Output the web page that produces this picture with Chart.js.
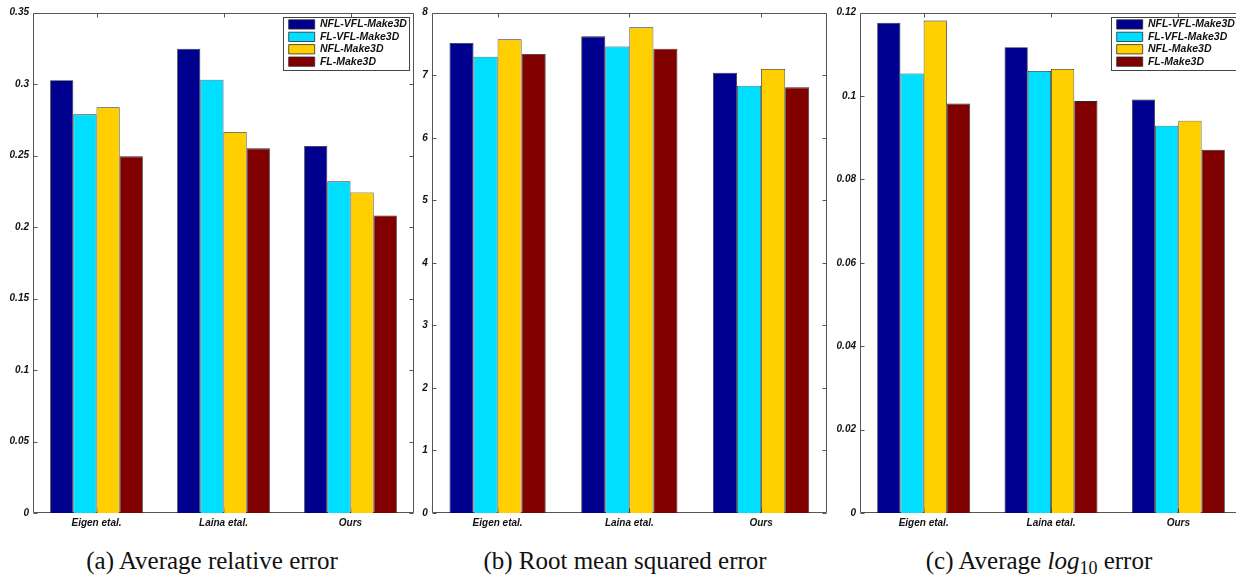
<!DOCTYPE html>
<html>
<head>
<meta charset="utf-8">
<script src="https://cdn.jsdelivr.net/npm/chart.js@4"></script>
<style>
html, body { margin:0; padding:0; background:#fff; width:1236px; height:577px; overflow:hidden; }
body { position:relative; }
.panel { position:absolute; top:0; height:538px; }
.cap { position:absolute; top:548px; font-family:"Liberation Serif", "Times New Roman", serif; font-size:25px; line-height:25px; white-space:nowrap; transform:translateX(-50%); color:#111; }
.cap sub { font-size:18px; vertical-align:-5px; line-height:0; }
</style>
</head>
<body>
<div class="panel" style="left:0px;width:416px"><canvas id="chartA"></canvas></div>
<div class="panel" style="left:404px;width:425px"><canvas id="chartB"></canvas></div>
<div class="panel" style="left:830px;width:414px"><canvas id="chartC"></canvas></div>
<div class="cap" style="left:212px">(a) Average relative error</div>
<div class="cap" style="left:625px">(b) Root mean squared error</div>
<div class="cap" style="left:1039px">(c) Average <i>log</i><sub>10</sub> error</div>
<script>
// ---- data ----
const categories = ['Eigen etal.', 'Laina etal.', 'Ours'];
const seriesNames = ['NFL-VFL-Make3D', 'FL-VFL-Make3D', 'NFL-Make3D', 'FL-Make3D'];
const seriesColors = ['#00008F', '#00DFFF', '#FFCF00', '#800000'];

// (a) Average relative error
const relNflVfl = [0.3027, 0.3248, 0.2567];
const relFlVfl  = [0.2789, 0.3031, 0.2320];
const relNfl    = [0.2838, 0.2665, 0.2243];
const relFl     = [0.2495, 0.2551, 0.2082];
const ticksA    = [0, 0.05, 0.1, 0.15, 0.2, 0.25, 0.3, 0.35];

// (b) Root mean squared error
const rmsNflVfl = [7.515, 7.622, 7.040];
const rmsFlVfl  = [7.296, 7.460, 6.832];
const rmsNfl    = [7.574, 7.766, 7.099];
const rmsFl     = [7.339, 7.424, 6.806];
const ticksB    = [0, 1, 2, 3, 4, 5, 6, 7, 8];

// (c) Average log10 error
const logNflVfl = [0.1176, 0.1117, 0.0992];
const logFlVfl  = [0.1054, 0.1060, 0.0929];
const logNfl    = [0.1181, 0.1065, 0.0941];
const logFl     = [0.0982, 0.0988, 0.0871];
const ticksC    = [0, 0.02, 0.04, 0.06, 0.08, 0.1, 0.12];

// ---- styling / drawing ----
const tickFont = { family: '"Liberation Sans", Arial, sans-serif', size: 10, weight: 'bold', style: 'italic' };
const legendFont = { family: '"Liberation Sans", Arial, sans-serif', size: 10.5, weight: 'bold', style: 'italic' };

const framePlugin = {
  id: 'matlabFrame',
  afterLayout(chart) {
    const lg = chart.legend;
    if (!lg || !lg.options.display) return;
    const a = chart.chartArea;
    const bx = a.right - 4.7 - 126, by = a.top + 4.6;
    chart.$legendBox = { x: bx, y: by, w: 126, h: 52.7 };
    lg.left = bx + 3.5; lg.top = by; lg.width = 122; lg.height = 60;
    lg.right = lg.left + lg.width; lg.bottom = lg.top + lg.height;
  },
  beforeDatasetsDraw(chart) {
    const ctx = chart.ctx, a = chart.chartArea, xs = chart.scales.x, ys = chart.scales.y;
    ctx.save();
    ctx.strokeStyle = '#555';
    ctx.lineWidth = 1;
    const L = Math.round(a.left) + 0.5, R = Math.round(a.right) - 0.5;
    const T = Math.round(a.top) + 0.5, B = Math.round(a.bottom) - 0.5;
    ctx.beginPath();
    ctx.rect(L, T, R - L, B - T);
    ys.ticks.forEach(t => {
      const y = Math.round(ys.getPixelForValue(t.value)) + 0.5;
      ctx.moveTo(L, y); ctx.lineTo(L + 4, y);
      ctx.moveTo(R - 4, y); ctx.lineTo(R, y);
    });
    categories.forEach((c, i) => {
      const x = Math.round(xs.getPixelForValue(i)) + 0.5;
      ctx.moveTo(x, T); ctx.lineTo(x, T + 4);
      ctx.moveTo(x, B - 4); ctx.lineTo(x, B);
    });
    ctx.stroke();
    ctx.restore();
  },
  afterDraw(chart) {
    const b = chart.$legendBox;
    if (!b) return;
    const ctx = chart.ctx;
    ctx.save();
    ctx.strokeStyle = '#444';
    ctx.lineWidth = 1;
    ctx.strokeRect(Math.round(b.x) + 0.5, Math.round(b.y) + 0.5, Math.round(b.w), Math.round(b.h));
    ctx.restore();
  }
};

function makeChart(id, series, ticks, axisW, showLegend) {
  return new Chart(document.getElementById(id), {
    type: 'bar',
    data: {
      labels: categories,
      datasets: series.map((vals, i) => ({
        label: seriesNames[i],
        data: vals,
        backgroundColor: seriesColors[i],
        borderColor: '#2a2a2a',
        borderWidth: 0.8,
        categoryPercentage: 0.73,
        barPercentage: 1
      }))
    },
    options: {
      responsive: true,
      maintainAspectRatio: false,
      animation: false,
      layout: { padding: { top: 12.7, right: 2, left: 0, bottom: 0 } },
      scales: {
        x: {
          offset: true,
          grid: { display: false, drawTicks: false },
          border: { display: false },
          ticks: { font: tickFont, color: '#111', padding: 4, maxRotation: 0, autoSkip: false },
          afterFit(s) { s.height = 25; }
        },
        y: {
          min: 0,
          max: ticks[ticks.length - 1],
          grid: { display: false, drawTicks: false },
          border: { display: false },
          afterBuildTicks(s) { s.ticks = ticks.map(v => ({ value: v })); },
          ticks: { font: tickFont, color: '#111', padding: 4, callback: v => String(v) },
          afterFit(s) { s.width = axisW; }
        }
      },
      plugins: {
        legend: {
          display: showLegend,
          position: 'chartArea',
          align: 'start',
          labels: { boxWidth: 26, boxHeight: 9.3, padding: 1.9, font: legendFont, color: '#111' }
        },
        tooltip: { enabled: false }
      }
    },
    plugins: [framePlugin]
  });
}

makeChart('chartA', [relNflVfl, relFlVfl, relNfl, relFl], ticksA, 33, true);
makeChart('chartB', [rmsNflVfl, rmsFlVfl, rmsNfl, rmsFl], ticksB, 27.7, false);
makeChart('chartC', [logNflVfl, logFlVfl, logNfl, logFl], ticksC, 30, true);
</script>
</body>
</html>
